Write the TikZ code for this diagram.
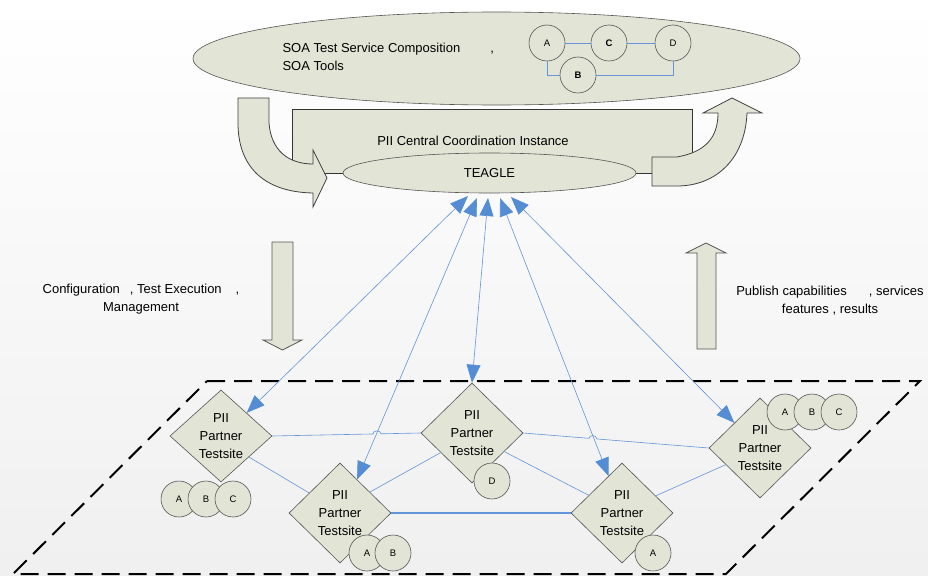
\documentclass[tikz,border=0pt]{standalone}
\usepackage{fontspec}
\setmainfont{Liberation Sans}
\usepackage{tikz}
\usetikzlibrary{calc}
\usetikzlibrary{shapes.geometric}
\usetikzlibrary{arrows.meta}
\definecolor{paperfill}{RGB}{226,229,214}
\definecolor{paperline}{RGB}{85,85,85}
\definecolor{linkblue}{RGB}{100,148,218}
\definecolor{tipblue}{RGB}{84,141,212}

\begin{document}
\begin{tikzpicture}[x=1pt,y=-1pt,
    every node/.style={font=\fontsize{13}{18}\selectfont},
    paper/.style={fill=paperfill,draw=paperline,line width=0.6pt},
    site/.style={diamond,paper,inner sep=0pt,minimum width=102pt,minimum height=100pt,align=center},
    svc/.style={circle,paper,inner sep=0pt,minimum size=36pt,font=\fontsize{9.5}{11}\selectfont},
    svcbold/.style={svc,font=\fontsize{9.5}{11}\selectfont\bfseries},
    link/.style={draw=linkblue,line width=0.6pt},
    feed/.style={link,>={Triangle[length=18pt,width=14pt,color=tipblue]},<->},
    blockarrow/.style={fill=paperfill,draw=black!75,line width=0.8pt}]
    \useasboundingbox (0,0) rectangle (928,575);
    \shade[top color=white,bottom color=gray!12] (0,0) rectangle (928,575);

    % top: composition of services
    \node[ellipse,paper,minimum width=607pt,minimum height=93pt] (soa) at (496.5,58.5) {};
    \node[anchor=west,align=left] (soatext) at (279,57) {SOA Test Service Composition\hspace{30pt},\\SOA Tools};
    \node[svc] (ca) at (547,43) {A};
    \node[svcbold] (cc) at (609,43) {C};
    \node[svc] (cd) at (673,43) {D};
    \node[svcbold] (cb) at (578,75) {B};
    \draw[link] (ca)--(cc)--(cd);
    \draw[link] (ca.south) |- (cb.west);
    \draw[link] (cb.east) -| (cd.south);

    % central instance
    \node[rectangle,paper,draw=black!80,minimum width=400pt,minimum height=64pt] (pci) at (492,141) {};
    \node (pcitext) at (473,141) {PII Central Coordination Instance};
    \draw[blockarrow] (238,98)--(269,98)--(269,123) .. controls (271,150) and (288,164) .. (313,164)
        --(313,150)--(327,178)--(313,207)--(313,193) .. controls (262,192) and (238,165) .. (238,123)--cycle;
    \draw[blockarrow] (652,157)--(677,157) .. controls (705,152) and (718,138) .. (718,113)
        --(703,113)--(732,98)--(762,113)--(747,113) .. controls (745,160) and (715,186) .. (677,186)--(652,186)--cycle;
    \node[ellipse,paper,minimum width=293pt,minimum height=40pt] (teagle) at (489.5,173) {TEAGLE};

    % down and up
    \draw[blockarrow,draw=paperline] (272,242)--(293,242)--(293,340)--(302,340)--(282.5,350)--(263,340)--(272,340)--cycle;
    \draw[blockarrow,draw=paperline] (697,349)--(716,349)--(716,253)--(726,253)--(706,243)--(686,253)--(697,253)--cycle;
    \node[align=center] (cfgtext) at (141,299) {Configuration\hspace{10pt}, Test Execution\hspace{14pt},\\Management};
    \node[align=center] (pubtext) at (830,301) {Publish capabilities\hspace{22pt}, services\\features , results};

    % partner testsites
    \draw[black,line width=2pt,dash pattern=on 18pt off 9pt] (207,381)--(920,381)--(726,574)--(13,574)--cycle;
    \node[site,minimum height=92pt] (d1) at (221,436) {PII\\Partner\\Testsite};
    \node[site] (d2) at (340,513) {PII\\Partner\\Testsite};
    \node[site] (d3) at (472,433) {PII\\Partner\\Testsite};
    \node[site] (d4) at (622,513) {PII\\Partner\\Testsite};
    \node[site] (d5) at (760,448) {PII\\Partner\\Testsite};

    \draw[link] (d1.east)--($(d1.east)!0.678!(d3.west)$) .. controls +(0,-4) and +(0,-4) .. ($(d1.east)!0.732!(d3.west)$)--(d3.west);
    \draw[link] (d3.east)--($(d3.east)!0.355!(d5.west)$) .. controls +(0,-4) and +(0,-4) .. ($(d3.east)!0.397!(d5.west)$)--(d5.west);
    \draw[link] (d1.323)--(d2.147);
    \draw[link] (d2.35)--(d3.212);
    \draw[link] (d3.330)--(d4.152);
    \draw[link] (d4.27)--(d5.206);
    \draw[link,line width=1.1pt] (d2.east)--(d4.west);

    \node[svc] (s1a) at (179,499) {A};
    \node[svc] (s1b) at (206,499) {B};
    \node[svc] (s1c) at (233,499) {C};
    \node[svc] (s2a) at (367,553) {A};
    \node[svc] (s2b) at (393,553) {B};
    \node[svc] (s3d) at (492,481) {D};
    \node[svc] (s4a) at (653,553) {A};
    \node[svc] (s5a) at (785,412) {A};
    \node[svc] (s5b) at (812,412) {B};
    \node[svc] (s5c) at (839,412) {C};

    % feeds to and from TEAGLE
    \coordinate (t1) at (468,196);
    \coordinate (t2) at (477,198);
    \coordinate (t3) at (488,198);
    \coordinate (t4) at (500,198);
    \coordinate (t5) at (511,197);
    \draw[feed] (t1)--(d1.north east);
    \draw[feed] (t2)--(d2.63);
    \draw[feed] (t3)--(d3.north);
    \draw[feed] (t4)--(d4.110);
    \draw[feed] (t5)--(d5.north west);
\end{tikzpicture}
\end{document}
